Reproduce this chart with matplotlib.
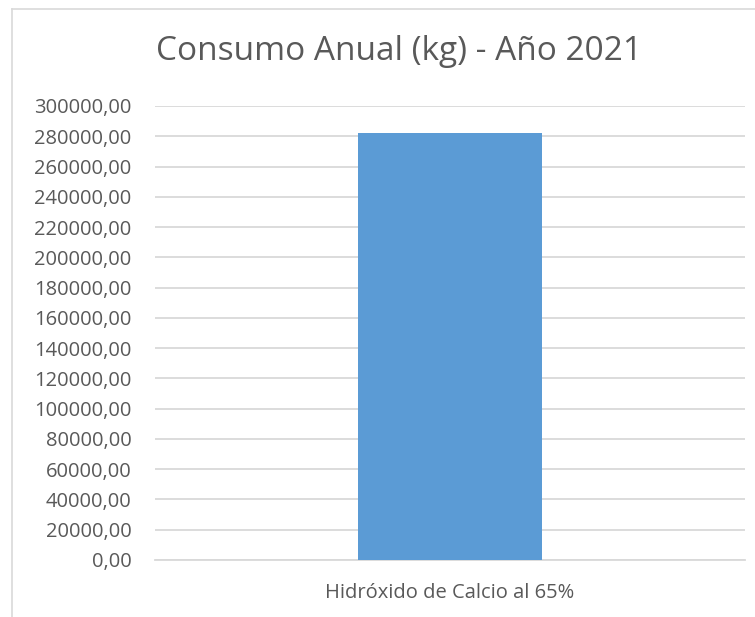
import matplotlib
matplotlib.use("Agg")
import matplotlib.pyplot as plt
from matplotlib.lines import Line2D
from matplotlib.ticker import FuncFormatter, MultipleLocator

# annual consumption, kg
categories = ["Hidróxido de Calcio al 65%"]
consumo_kg = [282000.0]

plt.rcParams['font.family'] = ['Open Sans', 'DejaVu Sans']
text_color = '#595959'

fig = plt.figure(figsize=(7.55, 6.17), dpi=100)
W, H = 755, 617
ax = fig.add_axes([155 / W, 1 - 560 / H, 590 / W, 454 / H])

ax.bar(categories, consumo_kg, width=0.313, color='#5b9bd5', zorder=3)

ax.set_ylim(0, 300000)
ax.set_xlim(-0.5, 0.5)
ax.yaxis.set_major_locator(MultipleLocator(20000))
ax.yaxis.set_major_formatter(FuncFormatter(lambda v, p: f"{v:.2f}".replace('.', ',')))
ax.grid(axis='y', color='#d9d9d9', linewidth=1.3, zorder=0)
for s in ['top', 'right', 'left']:
    ax.spines[s].set_visible(False)
ax.spines['bottom'].set_color('#d9d9d9')
ax.spines['bottom'].set_linewidth(1.3)
ax.tick_params(axis='both', length=0, labelsize=14.5, labelcolor=text_color)
ax.tick_params(axis='y', pad=17)
ax.tick_params(axis='x', pad=16.5)

fig.text(399 / W, 1 - 52 / H, "Consumo Anual (kg) - Año 2021", ha='center', va='center',
         fontsize=24, color=text_color)

# chart area border
fig.add_artist(Line2D([11.5 / W, 11.5 / W], [0, 1 - 8.5 / H], color='#d9d9d9', linewidth=1.2,
                      transform=fig.transFigure))
fig.add_artist(Line2D([11.5 / W, 1], [1 - 8.5 / H, 1 - 8.5 / H], color='#d9d9d9', linewidth=1.2,
                      transform=fig.transFigure))

fig.savefig("out.png", dpi=100)
